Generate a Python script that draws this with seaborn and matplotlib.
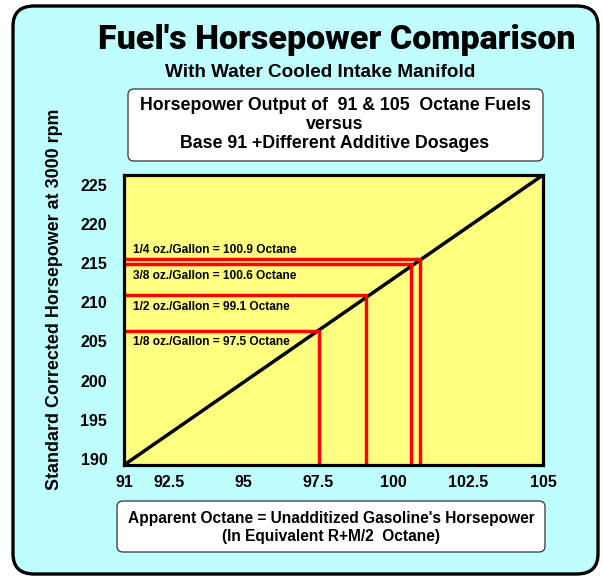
import matplotlib
matplotlib.use('Agg')
import matplotlib.pyplot as plt
from matplotlib.patches import FancyBboxPatch
import seaborn as sns

# diagonal reference line (base 91 -> 105 octane)
octane_line = [91, 105]
hp_line = [189.2, 226.3]

# additive dosages and their apparent octane / horsepower
dosages = ['1/4 oz./Gallon', '3/8 oz./Gallon', '1/2 oz./Gallon', '1/8 oz./Gallon']
octanes = [100.9, 100.6, 99.1, 97.5]
horsepower = [215.5, 214.9, 210.9, 206.4]

x_ticks = [91, 92.5, 95, 97.5, 100, 102.5, 105]
x_ticklabels = ['91', '92.5', '95', '97.5', '100', '102.5', '105']
y_ticks = [190, 195, 200, 205, 210, 215, 220, 225]

sns.set_theme(style='white')
plt.rcParams['font.family'] = ['Liberation Sans', 'DejaVu Sans']
plt.rcParams['text.color'] = 'black'
plt.rcParams['xtick.color'] = 'black'
plt.rcParams['ytick.color'] = 'black'

W, H = 603, 577
fig = plt.figure(figsize=(W / 100, H / 100), dpi=100)
fig.patch.set_facecolor('white')

def px_box(x0, y0, x1, y1):
    # pixel box (top-left origin) -> figure fraction
    return x0 / W, 1 - y1 / H, (x1 - x0) / W, (y1 - y0) / H

def ftext(x, y, s, **kw):
    kw.setdefault('fontweight', 'bold')
    fig.text(x / W, 1 - y / H, s, ha='center', va='center', zorder=5, **kw)

# outer cyan panel
bx, by, bw, bh = px_box(13, 6, 598, 574)
fig.patches.append(FancyBboxPatch((bx, by), bw, bh, boxstyle='round,pad=0,rounding_size=0.035',
                                  transform=fig.transFigure, facecolor='#C0FFFF', edgecolor='black',
                                  lw=2.4, zorder=0))

# white caption boxes
for (x0, y0, x1, y1) in [(128, 89, 543, 161), (117, 501, 545, 552)]:
    bx, by, bw, bh = px_box(x0, y0, x1, y1)
    fig.patches.append(FancyBboxPatch((bx, by), bw, bh, boxstyle='round,pad=0,rounding_size=0.01',
                                      transform=fig.transFigure, facecolor='white', edgecolor='#333333',
                                      lw=0.9, zorder=1))

ftext(337, 40, "Fuel's Horsepower Comparison", fontsize=24.5, fontweight=900,
      family=['Roboto', 'Liberation Sans', 'DejaVu Sans'])
ftext(320, 72, 'With Water Cooled Intake Manifold', fontsize=13.6)
ftext(335, 106, 'Horsepower Output of  91 & 105  Octane Fuels', fontsize=12.8)
ftext(335, 125, 'versus', fontsize=12.8)
ftext(335, 144, 'Base 91 +Different Additive Dosages', fontsize=12.8)
ftext(331, 519, "Apparent Octane = Unadditized Gasoline's Horsepower", fontsize=11.2)
ftext(331, 536, '(In Equivalent R+M/2  Octane)', fontsize=11.2)

ax = fig.add_axes(px_box(124, 175, 543, 465))
ax.set_zorder(3)
ax.set_facecolor('#FFFF80')

sns.lineplot(x=octane_line, y=hp_line, color='black', lw=2.5, estimator=None, ax=ax)

ylo = hp_line[0]
offsets = [(2.5, 'bottom'), (-4, 'top'), (-4, 'top'), (-4, 'top')]
for dose, o, h, (dy, va) in zip(dosages, octanes, horsepower, offsets):
    sns.lineplot(x=[octane_line[0], o, o], y=[h, h, ylo], sort=False, estimator=None,
                 color='red', lw=2.5, ax=ax)
    ax.annotate(f'{dose} = {o} Octane', xy=(91.3, h), xytext=(0, dy), textcoords='offset points',
                ha='left', va=va, fontsize=8.6, fontweight='bold')

ax.set_xlim(octane_line)
ax.set_ylim(hp_line)
ax.set_xticks(x_ticks)
ax.set_xticklabels(x_ticklabels)
ax.set_yticks(y_ticks)
ax.tick_params(length=0, labelsize=11.5, pad=7)
ax.tick_params(axis='y', pad=12)
for lab in ax.get_xticklabels() + ax.get_yticklabels():
    lab.set_fontweight('bold')
for s in ax.spines.values():
    s.set_visible(True)
    s.set_color('black')
    s.set_linewidth(2.3)
ax.set_xlabel('')
ax.set_ylabel('')

fig.text(55 / W, 1 - 299 / H, 'Standard Corrected Horsepower at 3000 rpm', rotation=90,
         ha='center', va='center', fontsize=12.9, fontweight='bold')

fig.savefig('out.png', dpi=100)
